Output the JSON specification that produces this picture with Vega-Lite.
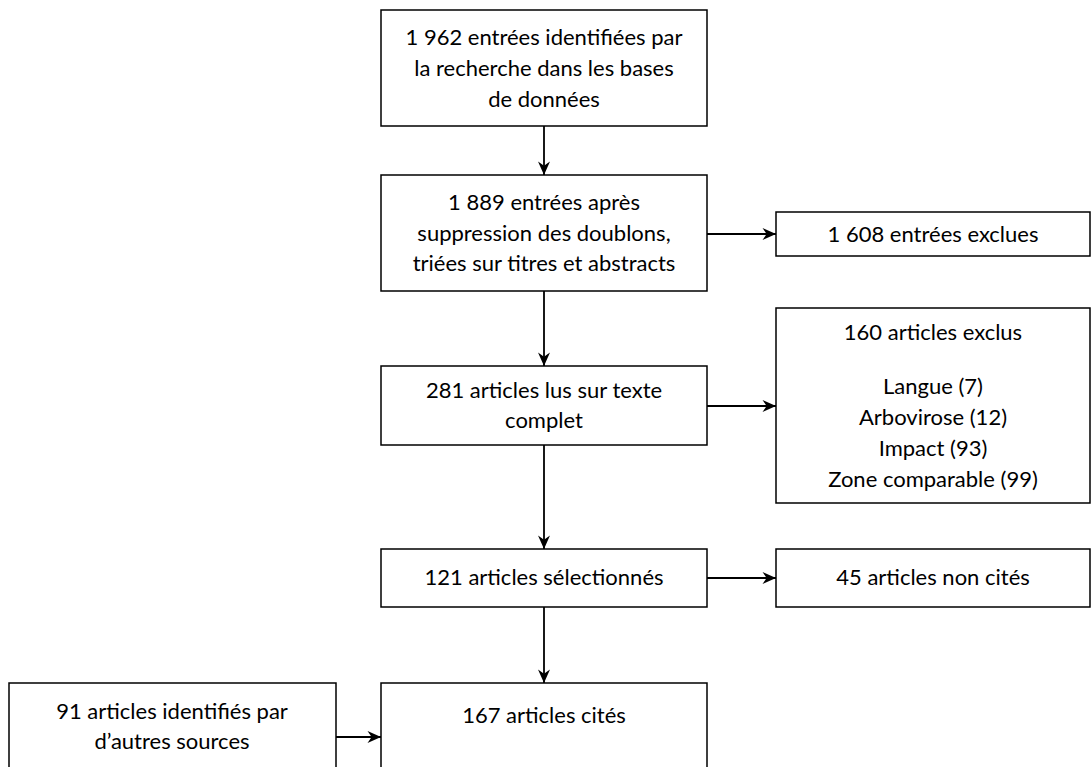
{
  "$schema": "https://vega.github.io/schema/vega-lite/v6.json",
  "width": 1091,
  "height": 767,
  "autosize": {"type": "fit", "contains": "padding"},
  "padding": 0,
  "background": "white",
  "config": {"view": {"stroke": null}},
  "datasets": {
    "boxes": [
      {"id": "b1", "x1": 381, "x2": 707, "y1": 10, "y2": 126},
      {"id": "b2", "x1": 381, "x2": 707, "y1": 175, "y2": 291},
      {"id": "b3", "x1": 776, "x2": 1090, "y1": 212, "y2": 256},
      {"id": "b4", "x1": 381, "x2": 707, "y1": 366, "y2": 445},
      {"id": "b5", "x1": 776, "x2": 1090, "y1": 308, "y2": 503},
      {"id": "b6", "x1": 381, "x2": 707, "y1": 549, "y2": 607},
      {"id": "b7", "x1": 776, "x2": 1090, "y1": 549, "y2": 607},
      {"id": "b8", "x1": 381, "x2": 707, "y1": 683, "y2": 790},
      {"id": "b9", "x1": 9, "x2": 336, "y1": 683, "y2": 790}
    ],
    "arrows": [
      {"x1": 544, "y1": 126, "x2": 544, "y2": 175, "dir": "down"},
      {"x1": 544, "y1": 291, "x2": 544, "y2": 366, "dir": "down"},
      {"x1": 544, "y1": 445, "x2": 544, "y2": 549, "dir": "down"},
      {"x1": 544, "y1": 607, "x2": 544, "y2": 683, "dir": "down"},
      {"x1": 707, "y1": 234, "x2": 776, "y2": 234, "dir": "right"},
      {"x1": 707, "y1": 406, "x2": 776, "y2": 406, "dir": "right"},
      {"x1": 707, "y1": 578, "x2": 776, "y2": 578, "dir": "right"},
      {"x1": 336, "y1": 737, "x2": 381, "y2": 737, "dir": "right"}
    ],
    "labels": [
      {"x": 544, "y": 38, "t": "1 962 entrées identifiées par"},
      {"x": 544, "y": 69, "t": "la recherche dans les bases"},
      {"x": 544, "y": 100, "t": "de données"},
      {"x": 544, "y": 203, "t": "1 889 entrées après"},
      {"x": 544, "y": 234, "t": "suppression des doublons,"},
      {"x": 544, "y": 264, "t": "triées sur titres et abstracts"},
      {"x": 933, "y": 235, "t": "1 608 entrées exclues"},
      {"x": 544, "y": 391, "t": "281 articles lus sur texte"},
      {"x": 544, "y": 421, "t": "complet"},
      {"x": 933, "y": 333, "t": "160 articles exclus"},
      {"x": 933, "y": 387, "t": "Langue (7)"},
      {"x": 933, "y": 418, "t": "Arbovirose (12)"},
      {"x": 933, "y": 449, "t": "Impact (93)"},
      {"x": 933, "y": 480, "t": "Zone comparable (99)"},
      {"x": 544, "y": 578, "t": "121 articles sélectionnés"},
      {"x": 933, "y": 578, "t": "45 articles non cités"},
      {"x": 544, "y": 716, "t": "167 articles cités"},
      {"x": 172, "y": 712, "t": "91 articles identifiés par"},
      {"x": 172, "y": 742, "t": "d’autres sources"}
    ]
  },
  "layer": [
    {
      "data": {"name": "boxes"},
      "mark": {"type": "rect", "fill": "white", "stroke": "black", "strokeWidth": 1.5, "clip": true},
      "encoding": {
        "x": {"field": "x1", "type": "quantitative", "scale": {"domain": [0, 1091], "nice": false, "zero": false}, "axis": null},
        "x2": {"field": "x2"},
        "y": {"field": "y1", "type": "quantitative", "scale": {"domain": [0, 767], "nice": false, "zero": false, "reverse": true}, "axis": null},
        "y2": {"field": "y2"}
      }
    },
    {
      "data": {"name": "arrows"},
      "mark": {"type": "rule", "stroke": "black", "strokeWidth": 1.8},
      "encoding": {
        "x": {"field": "x1", "type": "quantitative"},
        "x2": {"field": "x2"},
        "y": {"field": "y1", "type": "quantitative"},
        "y2": {"field": "y2"}
      }
    },
    {
      "data": {"name": "arrows"},
      "mark": {"type": "point", "filled": true, "fill": "black", "stroke": null, "opacity": 1, "size": 56},
      "encoding": {
        "x": {"field": "x2", "type": "quantitative"},
        "y": {"field": "y2", "type": "quantitative"},
        "shape": {
          "field": "dir",
          "type": "nominal",
          "legend": null,
          "scale": {
            "domain": ["down", "right"],
            "range": ["M0,0 L-1.6,-3.6 L0,-2.5 L1.6,-3.6 Z", "M0,0 L-3.6,-1.6 L-2.5,0 L-3.6,1.6 Z"]
          }
        }
      }
    },
    {
      "data": {"name": "labels"},
      "mark": {"type": "text", "font": "Lato", "fontSize": 22, "align": "center", "baseline": "middle", "color": "black"},
      "encoding": {
        "x": {"field": "x", "type": "quantitative"},
        "y": {"field": "y", "type": "quantitative"},
        "text": {"field": "t"}
      }
    }
  ]
}
